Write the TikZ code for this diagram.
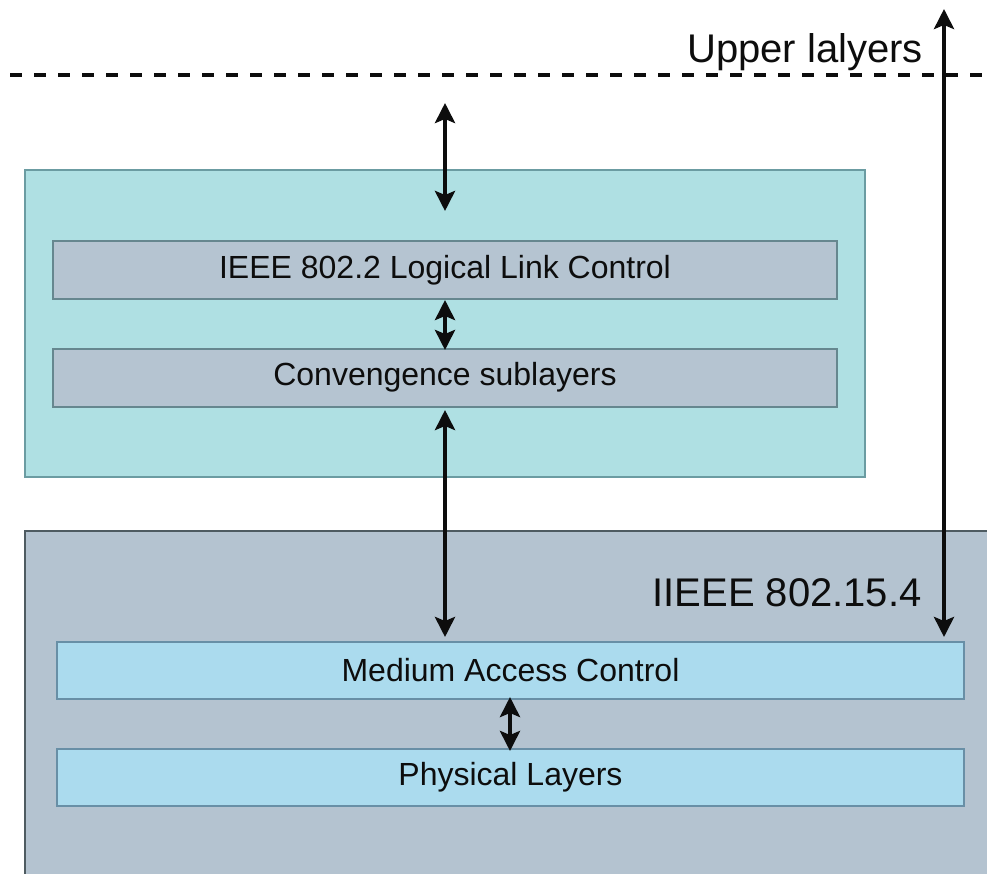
\documentclass[tikz,border=0pt]{standalone}
\usepackage{fontspec}
\setmainfont{Liberation Sans}
\usetikzlibrary{arrows.meta}

\definecolor{tealfill}{HTML}{AFE0E3}
\definecolor{tealedge}{HTML}{6B9CA2}
\definecolor{slatefill}{HTML}{B5C4D1}
\definecolor{slateedge}{HTML}{66878F}
\definecolor{stdfill}{HTML}{B4C3D0}
\definecolor{stdedge}{HTML}{4E5B61}
\definecolor{skyfill}{HTML}{ABDBEE}
\definecolor{skyedge}{HTML}{688FA6}
\definecolor{ink}{HTML}{0D0D0D}

\tikzset{
  boxtext/.style={font=\fontsize{32}{38}\selectfont, text=ink},
  bigtext/.style={font=\fontsize{40}{46}\selectfont, text=ink},
  llcbox/.style={draw=slateedge, line width=2pt, fill=slatefill,
    minimum width=784pt, minimum height=58pt, inner sep=0pt, boxtext},
  macbox/.style={draw=skyedge, line width=2pt, fill=skyfill,
    minimum width=907pt, minimum height=57pt, inner sep=0pt, boxtext},
  link/.style={draw=ink, line width=4pt,
    {Stealth[length=20pt,width=20pt,inset=4pt]}-{Stealth[length=20pt,width=20pt,inset=4pt]}},
}

\begin{document}
\begin{tikzpicture}[x=1pt,y=-1pt]
  \clip (0,0) rectangle (987,874);
  \fill[white] (0,0) rectangle (987,874);

  % boundary to the upper layers
  \draw[ink, line width=4pt, dash pattern=on 12pt off 12pt] (10,75) -- (987,75);
  \node[bigtext, anchor=base] (upper) at (805,63) {Upper lalyers};

  % IEEE 802.2 stack
  \node[draw=tealedge, line width=1.5pt, fill=tealfill, minimum width=840pt,
        minimum height=307pt, inner sep=0pt] (stack) at (445,323.5) {};
  \node[llcbox] (llc) at (445,270) {IEEE 802.2 Logical Link Control};
  \node[llcbox] (conv) at (445,377.5) {Convengence sublayers};

  % IEEE 802.15.4 standard
  \draw[stdedge, line width=2pt, fill=stdfill] (25,531) rectangle (1010,900);
  \node[bigtext, anchor=base] (std) at (787,606) {IIEEE 802.15.4};
  \node[macbox] (mac) at (510.5,670.5) {Medium Access Control};
  \node[macbox] (phy) at (510.5,777.5) {Physical Layers};

  % connector end points
  \coordinate (topin) at (445,103);
  \coordinate (topout) at (445,211);
  \coordinate (convlow) at (445,410);
  \coordinate (macup) at (445,637);
  \coordinate (farup) at (944,9);
  \coordinate (fardown) at (944,637);
  \coordinate (llclow) at (445,300);
  \coordinate (convtop) at (445,350);
  \coordinate (maclow) at (510,697);
  \coordinate (phytop) at (510,751);

  \draw[link] (topin) -- (topout);
  \draw[link] (llclow) -- (convtop);
  \draw[link] (convlow) -- (macup);
  \draw[link] (maclow) -- (phytop);
  \draw[link] (farup) -- (fardown);
\end{tikzpicture}
\end{document}
